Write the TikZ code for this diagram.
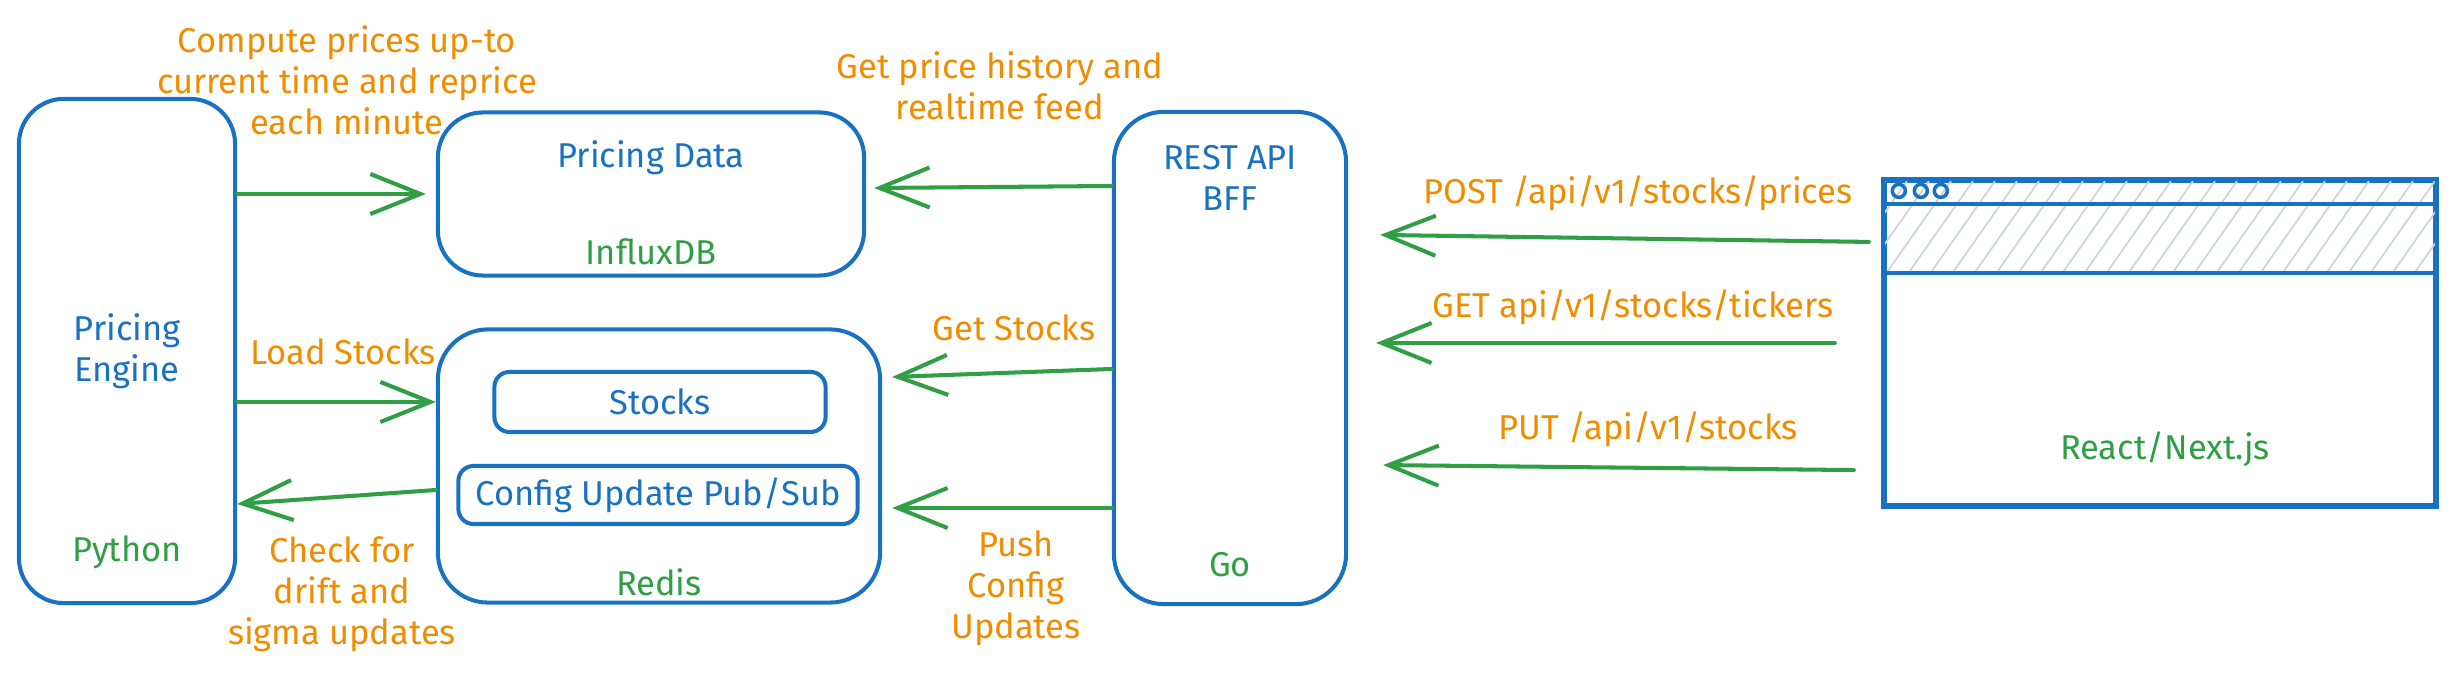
\documentclass[tikz,border=0pt]{standalone}
\usepackage{fontspec}
\setmainfont{Fira Sans}
\usetikzlibrary{arrows.meta, positioning}

\definecolor{exblue}{HTML}{1971C2}
\definecolor{exgreen}{HTML}{2F9E44}
\definecolor{exorange}{HTML}{F08C00}
\definecolor{exgray}{HTML}{CED4DA}

\newcommand{\labelfont}{\fontsize{9.8}{11.7}\selectfont}

\tikzset{
  box/.style={draw=exblue, line width=1.15pt, rounded corners=0.45cm, inner sep=0pt},
  subbox/.style={draw=exblue, line width=1.15pt, rounded corners=0.15cm, inner sep=0pt, text=exblue, font=\labelfont},
  title/.style={text=exblue, font=\labelfont, align=center},
  tech/.style={text=exgreen, font=\labelfont},
  note/.style={text=exorange, font=\labelfont, align=center},
  flow/.style={draw=exgreen, line width=1.15pt, line cap=round, -{Straight Barb[length=5mm, width=4mm]}},
}

\begin{document}
\begin{tikzpicture}[x=0.01cm, y=-0.01cm]
\useasboundingbox (0,0) rectangle (2454,674);

% Pricing engine
\node[box, minimum width=2.16cm, minimum height=5.04cm] (engine) at (127,351) {};
\node[title] (engineName) at (engine.center) {Pricing\\Engine};
\node[tech] (python) at ([yshift=0.53cm]engine.south) {Python};

% Pricing data store
\node[box, minimum width=4.26cm, minimum height=1.63cm] (pdata) at (651,194) {};
\node[title] (pdataName) at ([yshift=0.36cm]pdata.center) {Pricing Data};
\node[tech] (influx) at ([yshift=-0.58cm]pdata.center) {InfluxDB};

% Redis
\node[box, rounded corners=0.5cm, minimum width=4.42cm, minimum height=2.73cm] (redis) at (659,466) {};
\node[subbox, minimum width=3.31cm, minimum height=0.6cm] (stocks) at (660,402) {Stocks};
\node[subbox, minimum width=3.99cm, minimum height=0.58cm] (config) at (658,495) {Config Update Pub/Sub};
\node[tech] (redisName) at ([yshift=0.22cm]redis.south) {Redis};

% BFF
\node[box, rounded corners=0.5cm, minimum width=2.32cm, minimum height=4.92cm] (rest) at (1230,358) {};
\node[title] (restName) at ([yshift=-0.68cm]rest.north) {REST API\\BFF};
\node[tech] (golang) at ([yshift=0.42cm]rest.south) {Go};

% Browser window
\node[draw=exblue, line width=1.15pt, minimum width=5.5cm, minimum height=3.24cm, inner sep=0pt] (browser) at (2160,343) {};
\begin{scope}
  \clip (browser.north west) rectangle ([yshift=-0.94cm]browser.north east);
  \foreach \i in {0,...,28}
    \draw[exgray, line width=0.5pt] (1819+22*\i,275) -- (1885+22*\i,181);
\end{scope}
\draw[draw=exblue, line width=1.15pt] (browser.north west) rectangle (browser.south east);
\draw[draw=exblue, line width=1.15pt] ([yshift=-0.25cm]browser.north west) -- ([yshift=-0.25cm]browser.north east);
\draw[draw=exblue, line width=1.15pt] ([yshift=-0.94cm]browser.north west) -- ([yshift=-0.94cm]browser.north east);
\foreach \dx in {16,38,58}
  \draw[exblue, line width=1pt] ([xshift=\dx*0.01cm, yshift=-0.12cm]browser.north west) circle (6.5);
\node[tech] (react) at ([xshift=0.05cm, yshift=-1.06cm]browser.center) {React/Next.js};

% connectors
\draw[flow] (engine.east |- pdata.west) -- ([xshift=-0.1cm]pdata.west);
\draw[flow] ([yshift=0.08cm]rest.west |- pdata.east) -- ([xshift=0.08cm, yshift=0.06cm]pdata.east);
\draw[flow] (engine.east |- stocks.west) -- (redis.west |- stocks.west);
\draw[flow] ([yshift=0.05cm]redis.west |- config.west) -- ([yshift=-0.09cm]engine.east |- config.west);
\draw[flow] ([yshift=0.33cm]rest.west |- stocks.east) -- ([xshift=0.1cm, yshift=0.25cm]redis.east |- stocks.east);
\draw[flow] ([yshift=-0.13cm]rest.west |- config.east) -- ([xshift=0.1cm, yshift=-0.13cm]redis.east |- config.east);
\draw[flow] ([xshift=-0.14cm, yshift=1.01cm]browser.west) -- ([xshift=0.32cm, yshift=1.08cm]rest.east |- browser.west);
\draw[flow] ([xshift=-0.48cm]browser.west) -- ([xshift=0.28cm]rest.east |- browser.west);
\draw[flow] ([xshift=-0.29cm, yshift=-1.27cm]browser.west) -- ([xshift=0.35cm, yshift=-1.22cm]rest.east |- browser.west);

% labels
\node[note] (computeNote) at (347,80) {Compute prices up-to\\current time and reprice\\each minute};
\node[note] (historyNote) at (1000,86) {Get price history and\\realtime feed};
\node[note] (loadNote) at (343,352) {Load Stocks};
\node[note] (driftNote) at (342,594) {Check for\\drift and\\sigma updates};
\node[note] (getNote) at (1014,328) {Get Stocks};
\node[note] (pushNote) at (1016,588) {Push\\Config\\Updates};
\node[note] (postNote) at (1638,193) {POST /api/v1/stocks/prices};
\node[note] (tickersNote) at (1633,307) {GET api/v1/stocks/tickers};
\node[note] (putNote) at (1648,429) {PUT /api/v1/stocks};
\end{tikzpicture}
\end{document}
